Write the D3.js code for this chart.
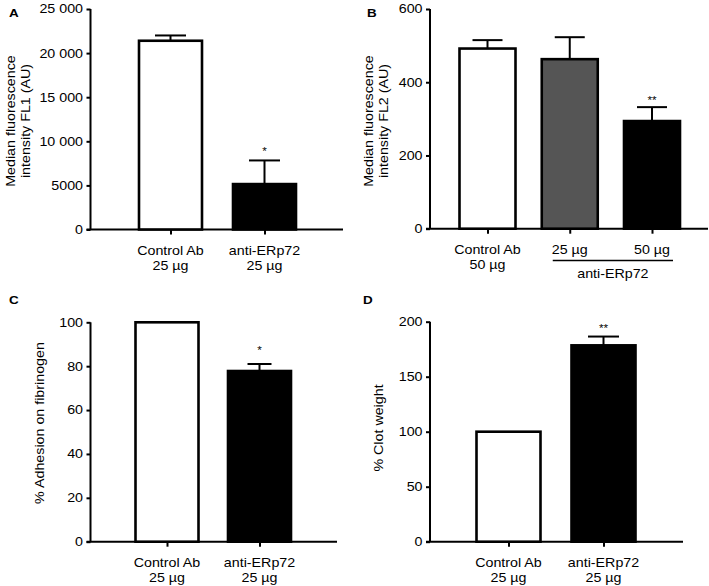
<!DOCTYPE html>
<html><head><meta charset="utf-8">
<script src="https://cdn.jsdelivr.net/npm/d3@7"></script>
<style>body{margin:0;background:#fff}svg{display:block}text{font-family:"Liberation Sans",Arial,Helvetica,sans-serif;fill:#000}</style>
</head><body><svg id="c" width="709" height="586"></svg>
<script>
// ---- data ----
const catsA = [["Control Ab","25 µg"],["anti-ERp72","25 µg"]];
const valsA = [21400, 5150];
const errA  = [600, 2680];
const sigA  = ["", "*"];
const ticksA = [0, 5000, 10000, 15000, 20000, 25000];

const catsB = [["Control Ab","50 µg"],["25 µg"],["50 µg"]];
const valsB = [492, 463, 294];
const errB  = [23, 60, 38];
const sigB  = ["", "", "**"];
const ticksB = [0, 200, 400, 600];
const groupB = "anti-ERp72";

const catsC = [["Control Ab","25 µg"],["anti-ERp72","25 µg"]];
const valsC = [100, 77.8];
const errC  = [0, 3.2];
const sigC  = ["", "*"];
const ticksC = [0, 20, 40, 60, 80, 100];

const catsD = [["Control Ab","25 µg"],["anti-ERp72","25 µg"]];
const valsD = [100, 178.5];
const errD  = [0, 8];
const sigD  = ["", "**"];
const ticksD = [0, 50, 100, 150, 200];

const fillsA = ["#fff", "#000"];
const fillsB = ["#fff", "#555", "#000"];

const FS = 12.2, SX = 1.17;
const svg = d3.select("#c");
const fmt = v => v >= 10000 ? d3.format(",")(v).replace(/,/g, " ") : String(v);

function txt(g, x, y, s, opts = {}) {
  const rot = opts.rotate ? " rotate(-90)" : "";
  return g.append("text")
    .attr("transform", `translate(${x},${y})${rot} scale(${SX},1)`)
    .attr("text-anchor", opts.anchor || "middle")
    .attr("font-size", opts.size || FS)
    .attr("font-weight", opts.bold ? "bold" : null)
    .text(s);
}

function panel(o) {
  const g = svg.append("g");
  const y = d3.scaleLinear().domain([0, o.max]).range([o.bottom, o.top]);
  const x = d3.scalePoint().domain(o.cats.map((c, i) => i)).range([o.c0, o.c1]);
  // y axis
  const ya = g.append("g").attr("transform", `translate(${o.left},0)`)
    .call(d3.axisLeft(y).tickValues(o.ticks).tickFormat(fmt).tickSize(4).tickPadding(3));
  ya.select(".domain").attr("stroke-width", 2).attr("d", `M0,${o.top}V${o.bottom}`);
  ya.selectAll(".tick line").attr("stroke-width", 2);
  ya.selectAll(".tick text")
    .attr("x", null)
    .attr("transform", `translate(-7.5,0) scale(${SX},1)`)
    .attr("font-size", FS)
    .style("font-family", '"Liberation Sans",Arial,sans-serif');
  // x axis
  const xa = g.append("g").attr("transform", `translate(0,${o.bottom})`)
    .call(d3.axisBottom(x).tickSize(5).tickFormat(""));
  xa.select(".domain").attr("stroke-width", 2).attr("d", `M${o.left - 4},0H${o.right}`);
  xa.selectAll(".tick line").attr("stroke-width", 2);
  // bars
  o.vals.forEach((v, i) => {
    const cx = x(i);
    if (o.err[i] > 0) {
      const yc = y(v + o.err[i]);
      g.append("line").attr("x1", cx).attr("x2", cx).attr("y1", y(v)).attr("y2", yc)
        .attr("stroke", "#000").attr("stroke-width", 2);
      g.append("line").attr("x1", cx - o.cap / 2).attr("x2", cx + o.cap / 2).attr("y1", yc).attr("y2", yc)
        .attr("stroke", "#000").attr("stroke-width", 2);
    }
    g.append("rect").attr("x", cx - o.bw / 2).attr("width", o.bw)
      .attr("y", y(v)).attr("height", y(0) - y(v))
      .attr("fill", o.fills[i]).attr("stroke", "#000").attr("stroke-width", 2.6);
    if (o.sig[i]) txt(g, cx, y(v + o.err[i]) - o.sigGap, o.sig[i], {size: 10});
    o.cats[i].forEach((t, k) => txt(g, cx, o.bottom + 25 + k * 15.5, t));
  });
  // y title
  o.title.forEach((t, k) => txt(g, o.titleX[k], o.titleY, t, {rotate: true}));
  // panel letter
  txt(g, o.lx, o.ly, o.letter, {anchor: "start", bold: true, size: 11.5});
  return {x, y, g};
}

panel({cats: catsA, vals: valsA, err: errA, sig: sigA, ticks: ticksA, max: 25000, fills: fillsA,
  left: 90.5, right: 343, top: 9, bottom: 229.5, c0: 170.5, c1: 264.5, bw: 63, cap: 31, sigGap: 5,
  title: ["Median fluorescence", "intensity FL1 (AU)"], titleX: [15, 30], titleY: 121,
  letter: "A", lx: 9, ly: 17});

const pb = panel({cats: catsB, vals: valsB, err: errB, sig: sigB, ticks: ticksB, max: 600, fills: fillsB,
  left: 430, right: 708, top: 9, bottom: 228.7, c0: 487.5, c1: 652, bw: 56, cap: 30, sigGap: 3,
  title: ["Median fluorescence", "intensity FL2 (AU)"], titleX: [373, 388], titleY: 121,
  letter: "B", lx: 367, ly: 17});
// group bracket in B
pb.g.append("line").attr("x1", pb.x(1) - 17).attr("x2", pb.x(2) + 21).attr("y1", 260.5).attr("y2", 260.5)
  .attr("stroke", "#000").attr("stroke-width", 1.5);
txt(pb.g, (pb.x(1) + pb.x(2)) / 2 + 2, 277.5, groupB);

panel({cats: catsC, vals: valsC, err: errC, sig: sigC, ticks: ticksC, max: 100, fills: fillsA,
  left: 90.5, right: 337, top: 322.3, bottom: 541.7, c0: 167, c1: 259.5, bw: 63, cap: 24, sigGap: 10,
  title: ["% Adhesion on fibrinogen"], titleX: [44], titleY: 423,
  letter: "C", lx: 9, ly: 304});

panel({cats: catsD, vals: valsD, err: errD, sig: sigD, ticks: ticksD, max: 200, fills: fillsA,
  left: 430, right: 683, top: 321.7, bottom: 541.7, c0: 508.5, c1: 603.5, bw: 64, cap: 31, sigGap: 4.5,
  title: ["% Clot weight"], titleX: [382.5], titleY: 428,
  letter: "D", lx: 363, ly: 303.5});
</script></body></html>
